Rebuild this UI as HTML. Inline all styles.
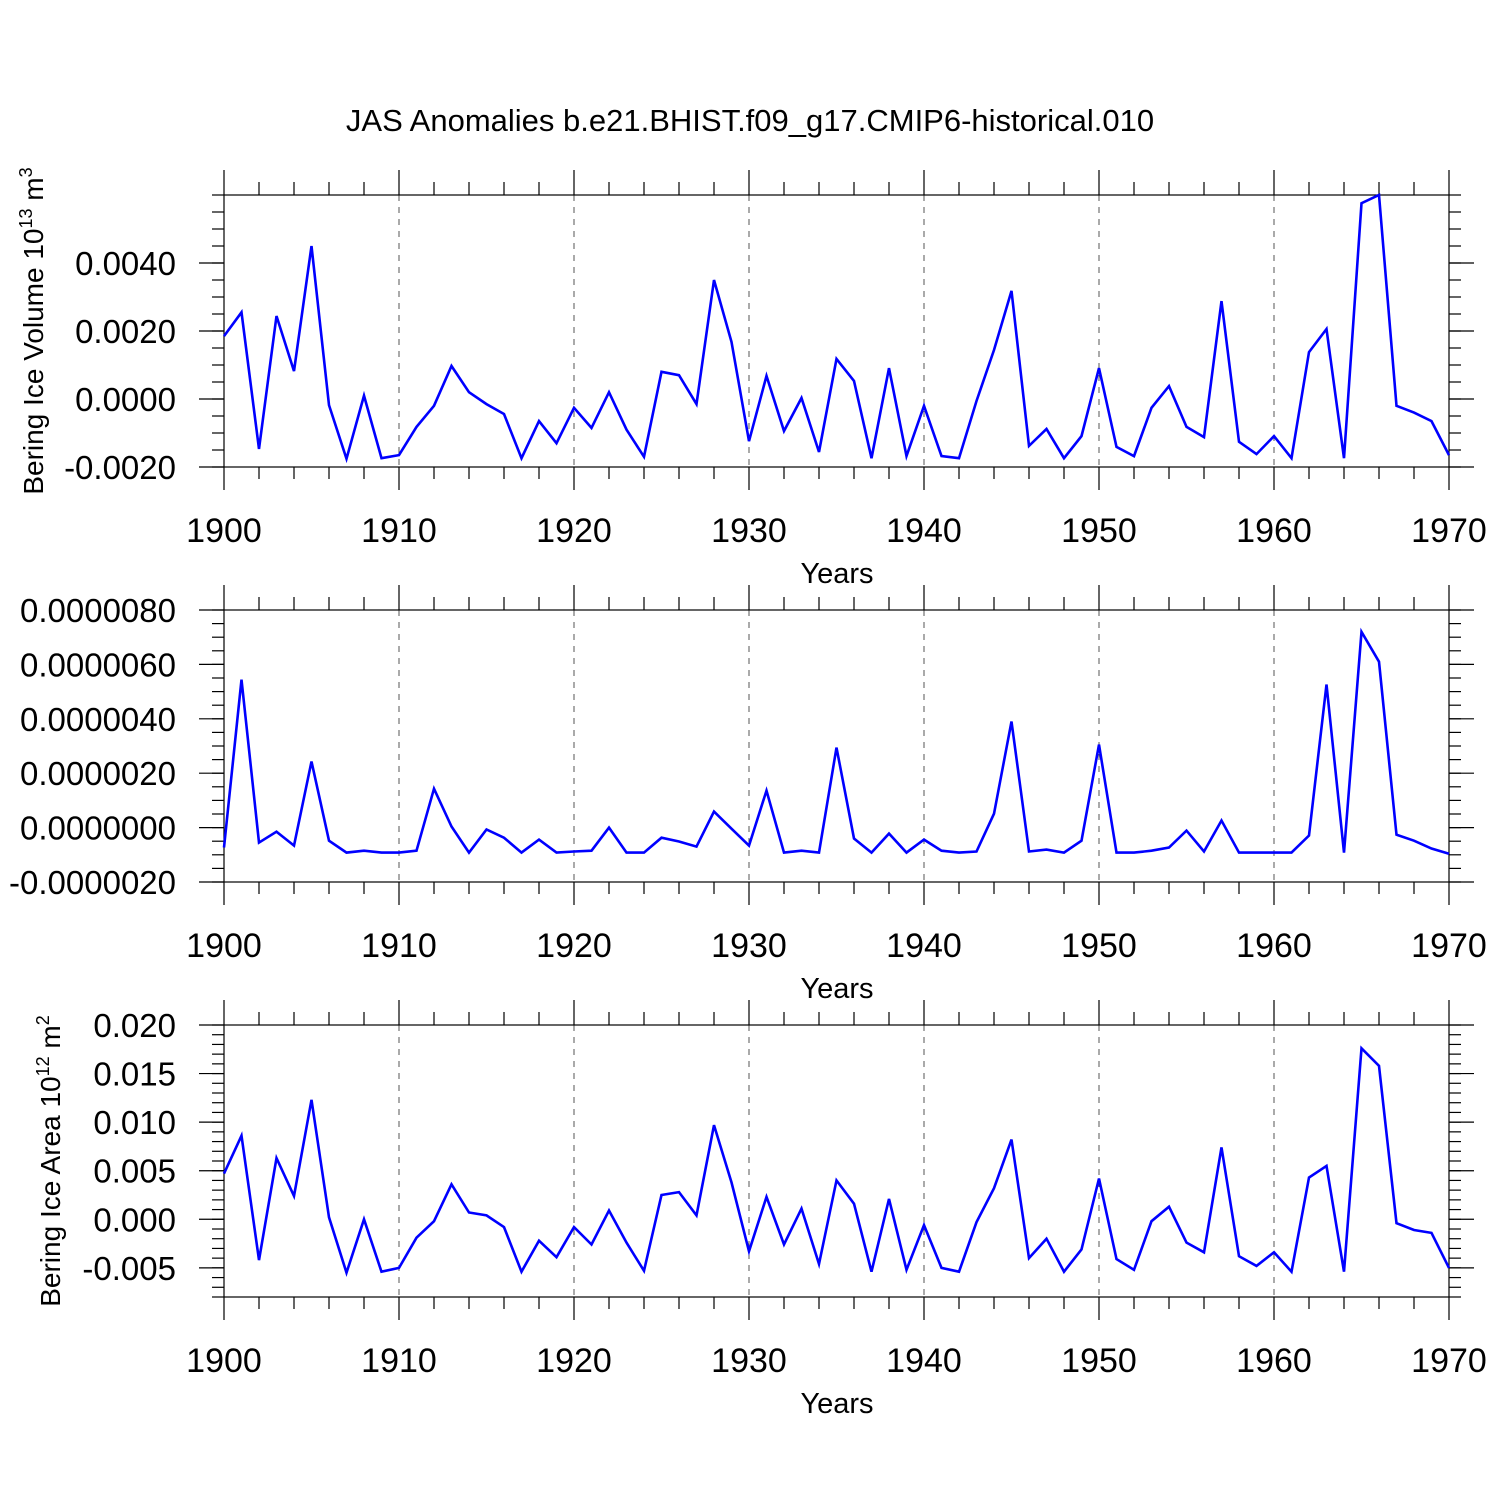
<!DOCTYPE html>
<html><head><meta charset="utf-8"><style>
body{margin:0;background:#fff}
svg text{font-family:"Liberation Sans",Arial,sans-serif;fill:#000}
</style></head><body>
<svg id="c" width="1500" height="1500" xmlns="http://www.w3.org/2000/svg">
<text x="750" y="131" font-size="31" text-anchor="middle">JAS Anomalies b.e21.BHIST.f09_g17.CMIP6-historical.010</text>
</svg>
<script>
const years = [];
for (let y = 1900; y <= 1970; y++) years.push(y);
const volume = [0.00185,0.00255,-0.00147,0.00244,0.00082,0.0045,-0.00018,-0.00176,0.0001,-0.00174,-0.00165,-0.00082,-0.0002,0.00097,0.0002,-0.00015,-0.00044,-0.00174,-0.00065,-0.0013,-0.00026,-0.00085,0.0002,-0.0009,-0.0017,0.0008,0.0007,-0.00015,0.0035,0.00168,-0.00124,0.00068,-0.00094,0.00003,-0.00156,0.00118,0.00053,-0.00174,0.00091,-0.00168,-0.0002,-0.00168,-0.00174,-0.00006,0.00144,0.00318,-0.00138,-0.00088,-0.00174,-0.00109,0.00091,-0.00141,-0.00168,-0.00026,0.00038,-0.00082,-0.00112,0.00288,-0.00126,-0.00162,-0.00109,-0.00174,0.00138,0.00206,-0.00174,0.00576,0.006,-0.0002,-0.0004,-0.00065,-0.00165];
const middle = [-0.73,5.44,-0.55,-0.15,-0.66,2.43,-0.48,-0.92,-0.85,-0.92,-0.92,-0.85,1.43,0.04,-0.92,-0.07,-0.37,-0.92,-0.44,-0.92,-0.88,-0.85,0,-0.92,-0.92,-0.37,-0.51,-0.7,0.59,-0.04,-0.66,1.36,-0.92,-0.85,-0.92,2.94,-0.4,-0.92,-0.22,-0.92,-0.44,-0.85,-0.92,-0.88,0.51,3.9,-0.88,-0.81,-0.92,-0.48,3.05,-0.92,-0.92,-0.85,-0.73,-0.11,-0.88,0.26,-0.92,-0.92,-0.92,-0.92,-0.29,5.26,-0.92,7.2,6.1,-0.26,-0.48,-0.77,-0.96].map(v=>v*1e-6);
const area = [4.7,8.6,-4.2,6.3,2.4,12.3,0.2,-5.5,0,-5.4,-5.0,-1.9,-0.2,3.6,0.7,0.4,-0.8,-5.4,-2.2,-3.9,-0.8,-2.6,0.9,-2.4,-5.3,2.5,2.8,0.4,9.7,3.8,-3.3,2.3,-2.6,1.1,-4.6,4.0,1.6,-5.4,2.1,-5.2,-0.6,-5.0,-5.4,-0.3,3.2,8.2,-4.0,-2.0,-5.4,-3.1,4.2,-4.1,-5.2,-0.2,1.3,-2.4,-3.4,7.4,-3.8,-4.8,-3.4,-5.4,4.3,5.5,-5.4,17.6,15.8,-0.4,-1.1,-1.4,-5.0].map(v=>v*1e-3);
const xTicks = [1900,1910,1920,1930,1940,1950,1960,1970];
const volTicks = [-0.002,0,0.002,0.004];
const volLabels = ["-0.0020","0.0000","0.0020","0.0040"];
const midTicks = [-2e-6,0,2e-6,4e-6,6e-6,8e-6];
const midLabels = ["-0.0000020","0.0000000","0.0000020","0.0000040","0.0000060","0.0000080"];
const areaTicks = [-0.005,0,0.005,0.01,0.015,0.02];
const areaLabels = ["-0.005","0.000","0.005","0.010","0.015","0.020"];

const svg = document.getElementById('c');
const NS = 'http://www.w3.org/2000/svg';
const X0=224, X1=1449;
const xs = y => X0 + (y-1900)/70*(X1-X0);
function mk(tag, attrs, name){
  const e=document.createElementNS(NS,tag);
  for(const k in attrs) e.setAttribute(k,attrs[k]);
  
  
  svg.appendChild(e); return e;
}
function line(x1,y1,x2,y2,name,extra){
  const a={x1,y1,x2,y2,stroke:'#000','stroke-width':1.2};
  if(extra) Object.assign(a,extra);
  return mk('line',a,name);
}
function panel(p){
  const ys = v => p.bot - (v-p.min)/(p.max-p.min)*(p.bot-p.top);
  xTicks.slice(1,-1).forEach(t=>line(xs(t),p.top,xs(t),p.bot,'x-gridline',{stroke:'#555','stroke-dasharray':'6,6','stroke-width':1}));
  mk('rect',{x:X0,y:p.top,width:X1-X0,height:p.bot-p.top,fill:'none',stroke:'#000','stroke-width':1.2},'plot-frame');
  for(let y=1902;y<1970;y+=2){ if(y%10===0) continue;
    line(xs(y),p.top,xs(y),p.top-13,'x-minor-tick');
    line(xs(y),p.bot,xs(y),p.bot+12,'x-minor-tick');}
  xTicks.forEach(t=>{
    line(xs(t),p.top,xs(t),p.top-25,'x-major-tick');
    line(xs(t),p.bot,xs(t),p.bot+23,'x-major-tick');
    const tx=mk('text',{x:xs(t),y:p.bot+75,'font-size':34,'text-anchor':'middle'},'x-tick-label');
    tx.textContent=t;
  });
  const xt=mk('text',{x:837,y:p.bot+116,'font-size':29,'text-anchor':'middle'},'x-axis-title');
  xt.textContent='Years';
  for(let v=p.min; v<=p.max+1e-15; v+=p.minor){
    const y=ys(v); line(X0,y,X0-12,y,'y-minor-tick'); line(X1,y,X1+12,y,'y-minor-tick');
  }
  p.ticks.forEach((t,i)=>{
    const y=ys(t); line(X0,y,X0-25,y,'y-major-tick'); line(X1,y,X1+25,y,'y-major-tick');
    const tx=mk('text',{x:X0-48,y:y+12,'font-size':33,'text-anchor':'end'},'y-tick-label');
    tx.textContent=p.labels[i];
  });
  if(p.title){
    const t=mk('text',{transform:`translate(${p.tx},${(p.top+p.bot)/2}) rotate(-90)`,'font-size':28,'text-anchor':'middle'},'y-axis-title');
    t.innerHTML=p.title;
  }
  const d=p.data.map((v,i)=>(i?'L':'M')+xs(years[i]).toFixed(1)+','+ys(v).toFixed(1)).join(' ');
  mk('path',{d,fill:'none',stroke:'#0000ff','stroke-width':2.6,'stroke-linejoin':'miter'},p.name);
}
panel({top:195,bot:467,min:-0.002,max:0.006,minor:0.0005,ticks:volTicks,labels:volLabels,data:volume,name:'volume-series',tx:43,
  title:'Bering Ice Volume 10<tspan dy="-11" font-size="18">13</tspan><tspan dy="11"> m</tspan><tspan dy="-11" font-size="18">3</tspan>'});
panel({top:610,bot:882,min:-2e-6,max:8e-6,minor:0.5e-6,ticks:midTicks,labels:midLabels,data:middle,name:'middle-series'});
panel({top:1025,bot:1297,min:-0.008,max:0.02,minor:0.001,ticks:areaTicks,labels:areaLabels,data:area,name:'area-series',tx:60,
  title:'Bering Ice Area 10<tspan dy="-11" font-size="18">12</tspan><tspan dy="11"> m</tspan><tspan dy="-11" font-size="18">2</tspan>'});
</script>
</body></html>
